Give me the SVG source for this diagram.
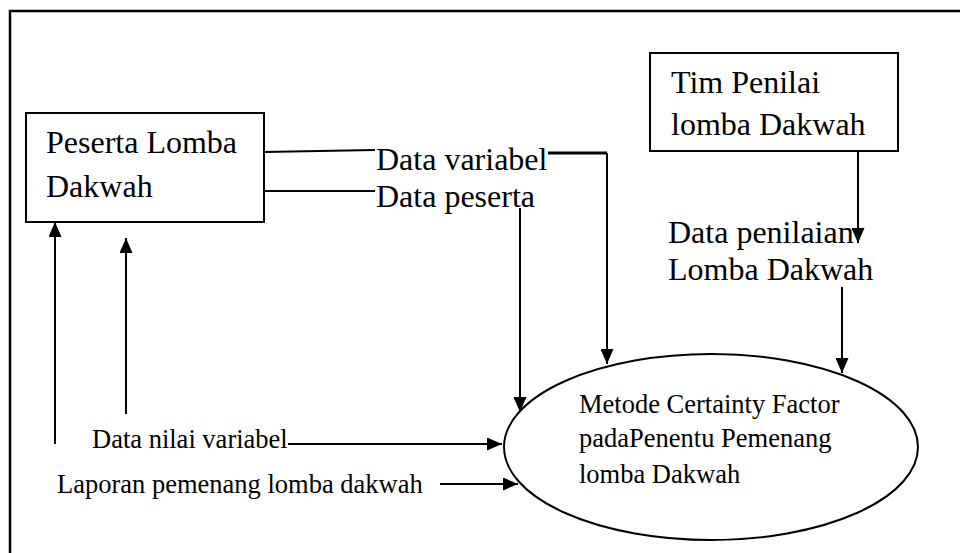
<svg xmlns="http://www.w3.org/2000/svg" width="960" height="553" viewBox="0 0 960 553">
  <style>
    .box { fill: #ffffff; stroke: #000000; stroke-width: 2; }
    .frame { fill: none; stroke: #000000; stroke-width: 2.5; }
    .lbl { font-family: "Liberation Serif", "Times New Roman", serif; fill: #000000; }
    .big { font-size: 32px; }
    .small { font-size: 26.5px; }
    .flow { fill: none; stroke: #000000; stroke-width: 2; }
    .thick { stroke-width: 3; }
  </style>
  <defs>
    <marker id="arrow" markerUnits="userSpaceOnUse" markerWidth="15" markerHeight="13" refX="15" refY="6.5" orient="auto">
      <path d="M0,0 L15,6.5 L0,13 z" fill="#000000"/>
    </marker>
  </defs>

  <rect width="960" height="553" fill="#ffffff"/>
  <!-- page frame -->
  <path class="frame" d="M10,553 V11 H960"/>

  <g id="peserta">
    <rect class="box" x="26" y="113" width="238" height="109"/>
    <text class="lbl big" x="46" y="153">Peserta Lomba</text>
    <text class="lbl big" x="46" y="197">Dakwah</text>
  </g>

  <g id="tim-penilai">
    <rect class="box" x="650" y="53" width="248" height="98"/>
    <text class="lbl big" x="671" y="93">Tim Penilai</text>
    <text class="lbl big" x="671" y="135">lomba Dakwah</text>
  </g>

  <g id="proses">
    <ellipse class="box" cx="711" cy="447" rx="207" ry="93"/>
    <text class="lbl small" x="579" y="413">Metode Certainty Factor</text>
    <text class="lbl small" x="579" y="447">padaPenentu Pemenang</text>
    <text class="lbl small" x="579" y="483">lomba Dakwah</text>
  </g>

  <g id="labels">
    <text class="lbl big" x="376" y="170">Data variabel</text>
    <text class="lbl big" x="376" y="207">Data peserta</text>
    <text class="lbl big" x="668" y="243">Data penilaian</text>
    <text class="lbl big" x="668" y="280">Lomba Dakwah</text>
    <text class="lbl small" x="92" y="448">Data nilai variabel</text>
    <text class="lbl small" x="57" y="493">Laporan pemenang lomba dakwah</text>
  </g>

  <g id="connectors">
    <!-- Peserta -> labels -->
    <path class="flow" d="M264,152 L375,150"/>
    <path class="flow" d="M264,191 L375,191"/>
    <!-- Data variabel -> proses -->
    <path class="flow thick" d="M548,153 H607"/>
    <path class="flow" d="M607,153 V364" marker-end="url(#arrow)"/>
    <!-- Data peserta -> proses -->
    <path class="flow" d="M520,208 V412" marker-end="url(#arrow)"/>
    <!-- Tim penilai -> Data penilaian -->
    <path class="flow" d="M858,151 V243" marker-end="url(#arrow)"/>
    <!-- Data penilaian -> proses -->
    <path class="flow" d="M842,287 V373" marker-end="url(#arrow)"/>
    <!-- back to Peserta -->
    <path class="flow" d="M55,444 V222" marker-end="url(#arrow)"/>
    <path class="flow" d="M126,414 V238" marker-end="url(#arrow)"/>
    <!-- into proses from left -->
    <path class="flow" d="M288,444 H502" marker-end="url(#arrow)"/>
    <path class="flow" d="M440,484 H518" marker-end="url(#arrow)"/>
  </g>
</svg>
